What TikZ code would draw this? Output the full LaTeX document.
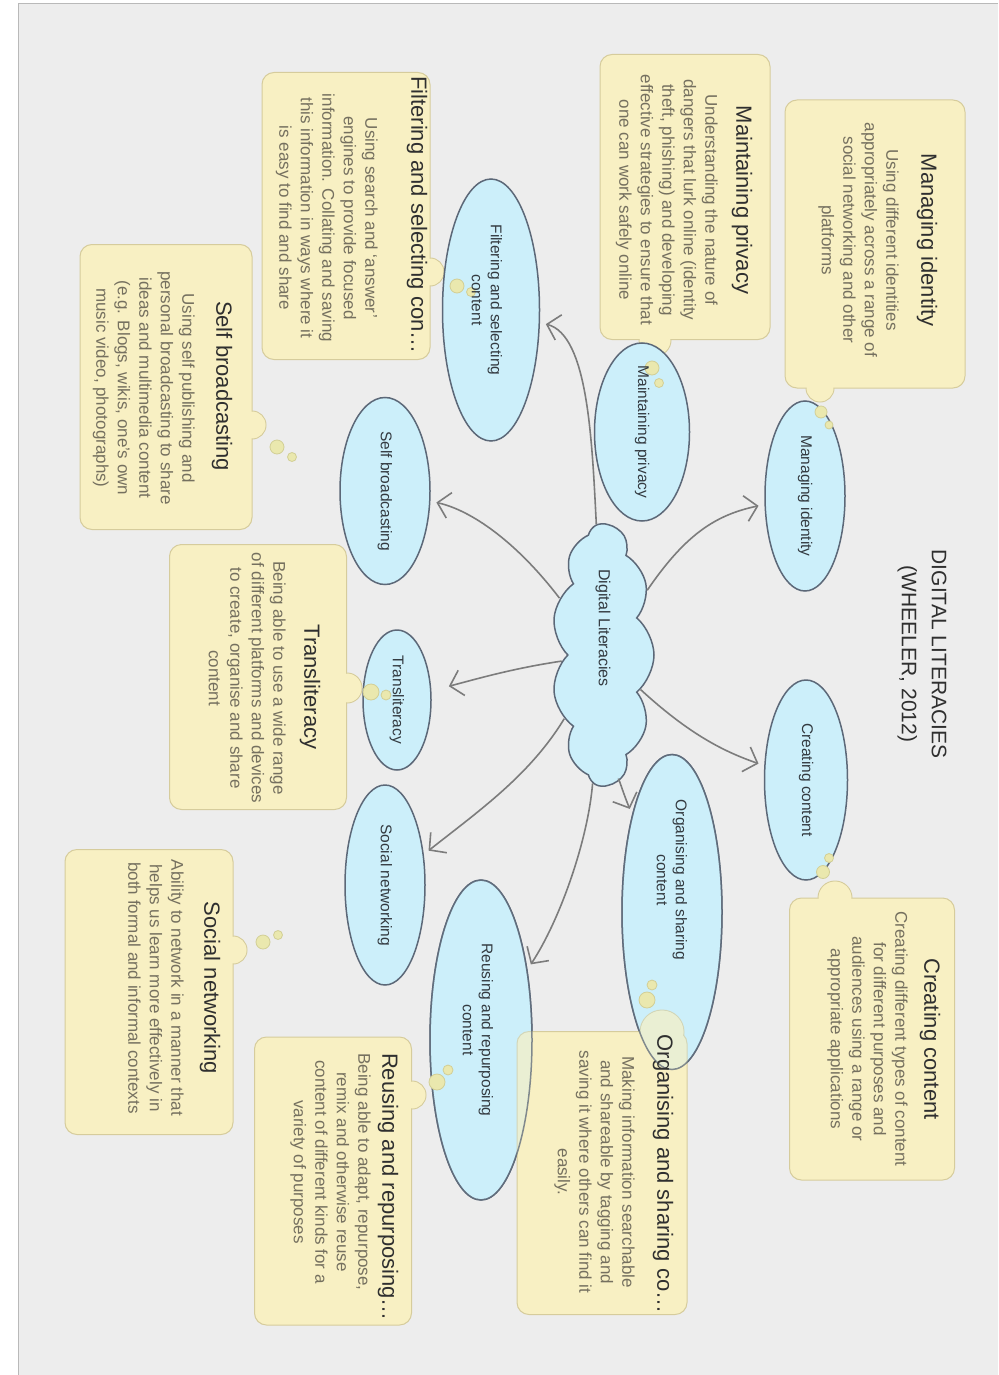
\documentclass[tikz,border=0pt]{standalone}
\usepackage{fontspec}
\setmainfont{Liberation Sans}
\usetikzlibrary{shapes.geometric,shapes.symbols,arrows.meta}
\definecolor{bgc}{HTML}{EDEDED}
\definecolor{boxfill}{HTML}{F8F0C3}
\definecolor{boxline}{HTML}{D6CC9C}
\definecolor{ellfill}{HTML}{CCEFFA}
\definecolor{ellline}{HTML}{5C6878}
\definecolor{arrc}{HTML}{7C7C7C}
\definecolor{ttlc}{HTML}{2F2F2F}
\definecolor{bodyc}{HTML}{75705F}
\definecolor{etc}{HTML}{333A40}
\definecolor{bubfill}{HTML}{EAE8AE}
\definecolor{bubline}{HTML}{D2CF96}
\newcommand\bumpbase[3]{\filldraw[fill=boxfill,draw=boxline,line width=1pt] (#1,#2) circle[radius=#3];}
\newcommand\bumptop[3]{\fill[boxfill] (#1,#2) circle[radius=#3-0.7];}
\newcommand\bubbles[6]{\filldraw[bub] (#1,#2) circle[radius=#3]; \filldraw[bub] (#4,#5) circle[radius=#6];}
\tikzset{
 box/.style={draw=boxline, fill=boxfill, rounded corners=12pt, line width=1pt, inner sep=0pt},
 ttl/.style={rotate=-90, text=ttlc, font=\fontsize{22}{26}\selectfont, inner sep=0pt},
 bdy/.style={rotate=-90, text=bodyc, font=\fontsize{17}{21.5}\selectfont, align=center, inner sep=0pt, anchor=north},
 ell/.style={ellipse, draw=ellline, fill=ellfill, line width=1.5pt, rotate=-90, inner sep=0pt},
 etxt/.style={rotate=-90, text=etc, font=\fontsize{15.5}{19}\selectfont, align=center, inner sep=0pt},
 bub/.style={fill=bubfill, draw=bubline, line width=0.8pt},
 arr/.style={draw=arrc, line width=1.6pt, -{Straight Barb[length=12pt,width=26pt]}, shorten >=6pt},
}
\begin{document}
\begin{tikzpicture}[x=1pt,y=-1pt]
\useasboundingbox (0,0) rectangle (998,1375);
\fill[white] (0,0) rectangle (998,1375);
\fill[bgc] (18,4) rectangle (998,1375);
\draw[gray!55,line width=1pt] (18,1375) -- (18,4) -- (998,4);

% ---------- boxes ----------
\bumpbase{820}{388}{14}
\node[box, minimum width=180, minimum height=288] (MIb) at (875,244) {};
\bumptop{820}{388}{14}

\bumpbase{655}{340}{16}
\node[box, minimum width=170, minimum height=285] (MPb) at (685,197) {};
\bumptop{655}{340}{16}

\bumpbase{430}{272}{14}
\node[box, minimum width=168, minimum height=287] (FSb) at (346,216) {};
\bumptop{430}{272}{14}

\bumpbase{252}{425}{14}
\node[box, minimum width=172, minimum height=285] (SBb) at (166,387) {};
\bumptop{252}{425}{14}

\bumpbase{347}{688}{15}
\node[box, minimum width=177, minimum height=265] (TRb) at (258,677) {};
\bumptop{347}{688}{15}

\bumpbase{233}{950}{14}
\node[box, minimum width=168, minimum height=285] (SNb) at (149,992) {};
\bumptop{233}{950}{14}

\bumpbase{412}{1095}{14}
\node[box, minimum width=157, minimum height=288] (RRb) at (333,1181) {};
\bumptop{412}{1095}{14}

\bumpbase{835}{898}{17}
\node[box, minimum width=165, minimum height=282] (CCb) at (872,1039) {};
\bumptop{835}{898}{17}

% ---------- ellipses ----------
\node[ell, minimum width=190, minimum height=80] (MIe) at (805,496) {};
\node[ell, minimum width=178, minimum height=95] (MPe) at (642,432) {};
\node[ell, minimum width=262, minimum height=97] (FSe) at (491,310) {};
\node[ell, minimum width=187, minimum height=90] (SBe) at (385,491) {};
\node[ell, minimum width=140, minimum height=68] (TRe) at (397,700) {};
\node[ell, minimum width=200, minimum height=80] (SNe) at (385,885) {};
\node[ell, minimum width=320, minimum height=102] (RRe) at (481,1040) {};
\node[ell, minimum width=315, minimum height=100] (OSe) at (672,912) {};
\node[ell, minimum width=200, minimum height=83] (CCe) at (806,780) {};
\node[cloud, cloud puffs=11, cloud puff arc=100, cloud ignores aspect, minimum width=262, minimum height=102, draw=ellline, fill=ellfill, line width=1.5pt, rotate=-90, inner sep=0pt] (DL) at (603,655) {};

% organising box drawn over the ellipses, ellipse lines showing through
\bumpbase{662}{1032}{22}
\node[box, minimum width=170, minimum height=283] (OSb) at (602,1173) {};
\bumptop{662}{1032}{22}
\filldraw[fill=ellfill, fill opacity=0.3, draw=ellline, draw opacity=0.75, line width=1.5pt] (672,912) ellipse[x radius=50, y radius=157.5];
\filldraw[fill=ellfill, fill opacity=0.3, draw=ellline, draw opacity=0.75, line width=1.5pt] (481,1040) ellipse[x radius=51, y radius=160];

% ---------- arrows ----------
\draw[arr] (DL) .. controls (685,535) and (715,515) .. (MIe);
\draw[arr] (DL) .. controls (592,440) and (588,335) .. (FSe);
\draw[arr] (DL) .. controls (515,540) and (470,510) .. (SBe);
\draw[arr, shorten >=18pt] (DL) .. controls (515,668) and (480,678) .. (TRe);
\draw[arr] (DL) .. controls (530,775) and (480,810) .. (SNe);
\draw[arr] (DL) .. controls (588,840) and (560,920) .. (RRe);
\draw[arr] (DL) .. controls (618,775) and (622,790) .. (OSe);
\draw[arr] (DL) .. controls (690,735) and (725,752) .. (CCe);

% ---------- bubbles ----------
\bubbles{821}{412}{6}{829}{425}{4}
\bubbles{652}{368}{7}{659}{383}{4.5}
\bubbles{457}{286}{7}{471}{292}{4.5}
\bubbles{277}{447}{7}{292}{457}{4.5}
\bubbles{371}{692}{8}{386}{695}{5}
\bubbles{263}{942}{7}{278}{935}{4.5}
\bubbles{437}{1082}{8}{448}{1070}{5}
\bubbles{647}{1000}{8}{652}{985}{5}
\bubbles{823}{872}{6.5}{829}{858}{4.5}

% ---------- ellipse labels ----------
\node[etxt] (MIl) at (805,496) {Managing identity};
\node[etxt] (MPl) at (642,432) {Maintaining privacy};
\node[etxt] (FSl) at (487,300) {Filtering and selecting\\content};
\node[etxt] (SBl) at (385,491) {Self broadcasting};
\node[etxt] (TRl) at (397,700) {Transliteracy};
\node[etxt] (SNl) at (385,885) {Social networking};
\node[etxt] (RRl) at (478,1030) {Reusing and repurposing\\content};
\node[etxt] (OSl) at (672,880) {Organising and sharing\\content};
\node[etxt] (CCl) at (806,780) {Creating content};
\node[etxt, font=\fontsize{16}{19}\selectfont] (DLl) at (603,628) {Digital Literacies};

% ---------- main title ----------
\node[rotate=-90, text=ttlc, font=\fontsize{21}{30}\selectfont, align=center, inner sep=0pt] (title) at (922,654) {DIGITAL LITERACIES\\(WHEELER, 2012)};

% ---------- box texts ----------
\node[ttl] (MIt) at (927,240) {Managing identity};
\node[bdy] (MId) at (899,240) {Using different identities\\appropriately across a range of\\social networking and other\\platforms};

\node[ttl] (MPt) at (742,200) {Maintaining privacy};
\node[bdy] (MPd) at (718,200) {Understanding the nature of\\dangers that lurk online (identity\\theft, phishing) and developing\\effective strategies to ensure that\\one can work safely online};

\node[ttl] (FSt) at (417,215) {Filtering and selecting con\ldots};
\node[bdy] (FSd) at (378,218) {Using search and `answer'\\engines to provide focused\\information. Collating and saving\\this information in ways where it\\is easy to find and share};

\node[ttl] (SBt) at (222,386) {Self broadcasting};
\node[bdy] (SBd) at (195,388) {Using self publishing and\\personal broadcasting to share\\ideas and multimedia content\\(e.g. Blogs, wikis, one's own\\music video, photographs)};

\node[ttl] (TRt) at (310,687) {Transliteracy};
\node[bdy] (TRd) at (286,678) {Being able to use a wide range\\of different platforms and devices\\to create, organise and share\\content};

\node[ttl] (SNt) at (210,988) {Social networking};
\node[bdy] (SNd) at (184,988) {Ability to network in a manner that\\helps us learn more effectively in\\both formal and informal contexts};

\node[ttl] (RRt) at (388,1187) {Reusing and repurposing\ldots};
\node[bdy] (RRd) at (371,1172) {Being able to adapt, repurpose,\\remix and otherwise reuse\\content of different kinds for a\\variety of purposes};

\node[ttl] (OSt) at (663,1174) {Organising and sharing co\ldots};
\node[bdy] (OSd) at (635,1172) {Making information searchable\\and shareable by tagging and\\saving it where others can find it\\easily.};

\node[ttl] (CCt) at (930,1039) {Creating content};
\node[bdy] (CCd) at (908,1039) {Creating different types of content\\for different purposes and\\audiences using a range or\\appropriate applications};
\end{tikzpicture}
\end{document}
